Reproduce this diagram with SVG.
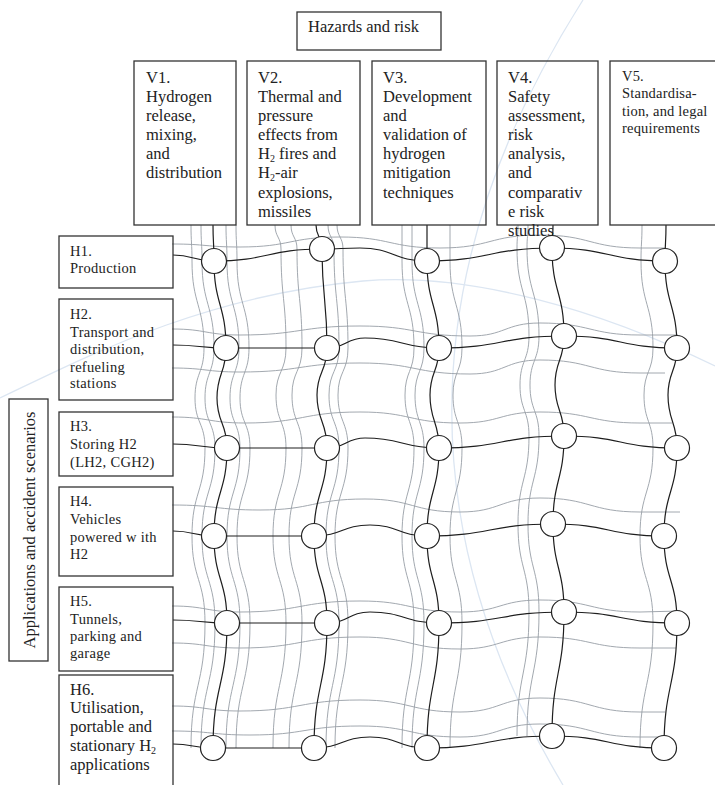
<svg xmlns="http://www.w3.org/2000/svg" xmlns:xlink="http://www.w3.org/1999/xlink" width="715" height="785" viewBox="0 0 715 785">
<style>
.box{fill:none;stroke:#333;stroke-width:1.3}
.t{font-family:"Liberation Serif","Times New Roman",serif;fill:#222}
.v{font-size:16.5px}
.h{font-size:14.5px;letter-spacing:0.3px}
.s{font-size:14.5px;letter-spacing:0.2px}
.blk{fill:none;stroke:#1e1e1e;stroke-width:1.2}
.gry{fill:none;stroke:#979ea6;stroke-width:0.9}
.arc{fill:none;stroke:#dce6f2;stroke-width:1.3}
.jn{fill:#fff;stroke:#222;stroke-width:1.2}
</style>
<defs>
<path id="c1" d="M213,225 C213,243 214,243 214,261 C214,304.5 226,304.5 226,348 C226,373 217,373 217,398 C217,423 227,423 227,448 C227,492 214,492 214,536 C214,579.5 227,579.5 227,623 C227,685.5 213,685.5 213,748"/>
<path id="c2" d="M316,225 C316,237 322,237 322,249 C322,298.5 327,298.5 327,348 C327,371.5 317,371.5 317,395 C317,421.5 327,421.5 327,448 C327,492 314,492 314,536 C314,579.5 327,579.5 327,623 C327,685.5 314,685.5 314,748"/>
<path id="c3" d="M427,225 L427,261 C427,304.5 439,304.5 439,348 C439,371.5 430,371.5 430,395 C430,421.5 439,421.5 439,448 C439,492 427,492 427,536 C427,579.5 439,579.5 439,623 C439,685.5 427,685.5 427,748"/>
<path id="c4" d="M553,225 C553,236.5 552,236.5 552,248 C552,292 564,292 564,336 C564,360.5 555,360.5 555,385 C555,410.5 564,410.5 564,436 C564,480 553,480 553,524 C553,568 564,568 564,612 C564,674 552,674 552,736"/>
<path id="c5" d="M666,225 C666,243 665,243 665,261 C665,304.5 677,304.5 677,348 C677,371.5 668,371.5 668,395 C668,421.5 677,421.5 677,448 C677,492 664,492 664,536 C664,579.5 677,579.5 677,623 C677,685.5 664,685.5 664,748"/>
</defs>
<rect width="715" height="785" fill="#fff"/>
<g id="background-arcs">
<path class="arc" d="M0,398 C80,360 200,296 363,281 C470,272 600,310 715,366"/>
<path class="arc" d="M583,0 Q331,397 563,785"/>
</g>
<g id="connectors">
<g class="gry">
<use xlink:href="#c1" x="-22"/><use xlink:href="#c1" x="-12"/><use xlink:href="#c1" x="13"/><use xlink:href="#c1" x="23"/>
<use xlink:href="#c2" x="-41"/><use xlink:href="#c2" x="-25"/><use xlink:href="#c2" x="12"/><use xlink:href="#c2" x="21"/>
<use xlink:href="#c3" x="-25"/><use xlink:href="#c3" x="-15"/><use xlink:href="#c3" x="23"/>
<use xlink:href="#c4" x="-35"/><use xlink:href="#c4" x="-25"/>
<use xlink:href="#c5" x="-24"/>
<path d="M172,244 C206,244 206,247 240,247 C290,247 290,237 340,237 C390,237 390,248 440,248 C490,248 490,235 540,235 C590,235 590,248 640,248 L665,248"/>
<path d="M172,329 C206,329 206,335 240,335 C300,335 300,326 360,326 C415,326 415,336 470,336 C505,336 505,323 540,323 C590,323 590,335 640,335 L678,335"/>
<path d="M172,368 C206,368 206,372 240,372 C300,372 300,363 360,363 C415,363 415,374 470,374 C505,374 505,360 540,360 C590,360 590,373 640,373 L665,373"/>
<path d="M172,417 C208.5,417 208.5,423 245,423 C302.5,423 302.5,412 360,412 C410,412 410,423 460,423 C500,423 500,412 540,412 C590,412 590,423 640,423 L672,423"/>
<path d="M172,505 C216,505 216,510 260,510 C312.5,510 312.5,499 365,499 C412.5,499 412.5,512 460,512 C500,512 500,498 540,498 C590,498 590,512 640,512 L680,512"/>
<path d="M172,606 C206,606 206,612 240,612 C300,612 300,601 360,601 C410,601 410,612 460,612 C500,612 500,600 540,600 C590,600 590,612 640,612 L680,611"/>
<path d="M172,643 C206,643 206,648 240,648 C300,648 300,637 360,637 C410,637 410,649 460,649 C500,649 500,637 540,637 C590,637 590,648 640,648 L676,648"/>
<path d="M172,706 C206,706 206,711 240,711 C300,711 300,700 360,700 C410,700 410,712 460,712 C500,712 500,698 540,698 C590,698 590,712 640,712 L665,712"/>
<path d="M172,731 C211,731 211,735 250,735 C305,735 305,726 360,726 C410,726 410,737 460,737 C500,737 500,724 540,724 C590,724 590,737 640,737 L662,737"/>
</g>
<g class="blk">
<use xlink:href="#c1"/><use xlink:href="#c2"/><use xlink:href="#c3"/><use xlink:href="#c4"/><use xlink:href="#c5"/>
<path d="M173,255 C193.5,255 193.5,261 214,261 C268,261 268,249 322,249 C341,249 341,248 360,248 C393.5,248 393.5,261 427,261 C489.5,261 489.5,248 552,248 C608.5,248 608.5,261 665,261"/>
<path d="M173,345 C199.5,345 199.5,348 226,348 C276.5,348 276.5,348 327,348 C346,348 346,338 365,338 C402,338 402,348 439,348 C501.5,348 501.5,336 564,336 C620.5,336 620.5,348 677,348"/>
<path d="M173,444 C200,444 200,448 227,448 C277,448 277,448 327,448 C346,448 346,438 365,438 C402,438 402,448 439,448 C501.5,448 501.5,436 564,436 C620.5,436 620.5,448 677,448"/>
<path d="M173,531 C193.5,531 193.5,536 214,536 C264,536 264,536 314,536 C342,536 342,525 370,525 C398.5,525 398.5,536 427,536 C490,536 490,524 553,524 C608.5,524 608.5,536 664,536"/>
<path d="M173,620 C200,620 200,623 227,623 C277,623 277,623 327,623 C348.5,623 348.5,612 370,612 C404.5,612 404.5,623 439,623 C501.5,623 501.5,612 564,612 C620.5,612 620.5,623 677,623"/>
<path d="M173,744 C193,744 193,748 213,748 C263.5,748 263.5,748 314,748 C342,748 342,737 370,737 C398.5,737 398.5,748 427,748 C489.5,748 489.5,736 552,736 C608,736 608,748 664,748"/>
</g>
</g>
<g id="junctions" class="jn">
<circle cx="214" cy="261" r="12.5"/><circle cx="322" cy="249" r="12.5"/><circle cx="427" cy="261" r="12.5"/><circle cx="552" cy="248" r="12.5"/><circle cx="665" cy="261" r="12.5"/>
<circle cx="226" cy="348" r="12.5"/><circle cx="327" cy="348" r="12.5"/><circle cx="439" cy="348" r="12.5"/><circle cx="564" cy="336" r="12.5"/><circle cx="677" cy="348" r="12.5"/>
<circle cx="227" cy="448" r="12.5"/><circle cx="327" cy="448" r="12.5"/><circle cx="439" cy="448" r="12.5"/><circle cx="564" cy="436" r="12.5"/><circle cx="677" cy="448" r="12.5"/>
<circle cx="214" cy="536" r="12.5"/><circle cx="314" cy="536" r="12.5"/><circle cx="427" cy="536" r="12.5"/><circle cx="553" cy="524" r="12.5"/><circle cx="664" cy="536" r="12.5"/>
<circle cx="227" cy="623" r="12.5"/><circle cx="327" cy="623" r="12.5"/><circle cx="439" cy="623" r="12.5"/><circle cx="564" cy="612" r="12.5"/><circle cx="677" cy="623" r="12.5"/>
<circle cx="213" cy="748" r="12.5"/><circle cx="314" cy="748" r="12.5"/><circle cx="427" cy="748" r="12.5"/><circle cx="552" cy="736" r="12.5"/><circle cx="664" cy="748" r="12.5"/>
</g>
<g id="hazards">
<rect class="box" x="297" y="12" width="144" height="38"/>
<text class="t v" x="308" y="32">Hazards and risk</text>
</g>
<g id="V1">
<rect class="box" x="134" y="61" width="102" height="164"/>
<text class="t v"><tspan x="146" y="83">V1.</tspan><tspan x="146" y="102">Hydrogen</tspan><tspan x="146" y="121">release,</tspan><tspan x="146" y="140">mixing,</tspan><tspan x="146" y="159">and</tspan><tspan x="146" y="178">distribution</tspan></text>
</g>
<g id="V2">
<rect class="box" x="247" y="61" width="113" height="164"/>
<text class="t v"><tspan x="258" y="83">V2.</tspan><tspan x="258" y="102">Thermal and</tspan><tspan x="258" y="121">pressure</tspan><tspan x="258" y="140">effects from</tspan></text>
<text class="t v" x="258" y="159">H<tspan font-size="10" dy="3">2</tspan><tspan dy="-3"> fires and</tspan></text>
<text class="t v" x="258" y="178">H<tspan font-size="10" dy="3">2</tspan><tspan dy="-3">-air</tspan></text>
<text class="t v"><tspan x="258" y="198">explosions,</tspan><tspan x="258" y="217">missiles</tspan></text>
</g>
<g id="V3">
<rect class="box" x="372" y="61" width="114" height="164"/>
<text class="t v"><tspan x="383" y="83">V3.</tspan><tspan x="383" y="102">Development</tspan><tspan x="383" y="121">and</tspan><tspan x="383" y="140">validation of</tspan><tspan x="383" y="159">hydrogen</tspan><tspan x="383" y="178">mitigation</tspan><tspan x="383" y="198">techniques</tspan></text>
</g>
<g id="V4">
<rect class="box" x="497" y="61" width="101" height="164"/>
<text class="t v"><tspan x="508" y="83">V4.</tspan><tspan x="508" y="102">Safety</tspan><tspan x="508" y="121">assessment,</tspan><tspan x="508" y="140">risk</tspan><tspan x="508" y="159">analysis,</tspan><tspan x="508" y="178">and</tspan><tspan x="508" y="198">comparativ</tspan><tspan x="508" y="217">e risk</tspan><tspan x="508" y="236">studies</tspan></text>
</g>
<g id="V5">
<rect class="box" x="610" y="61" width="107" height="164"/>
<text class="t s"><tspan x="622" y="81">V5.</tspan><tspan x="622" y="98">Standardisa-</tspan><tspan x="622" y="116">tion, and legal</tspan><tspan x="622" y="133">requirements</tspan></text>
</g>
<g id="H1">
<rect class="box" x="59" y="236" width="114" height="52"/>
<text class="t h"><tspan x="70" y="256">H1.</tspan><tspan x="70" y="273">Production</tspan></text>
</g>
<g id="H2">
<rect class="box" x="59" y="299" width="114" height="101"/>
<text class="t h"><tspan x="70" y="319">H2.</tspan><tspan x="70" y="337">Transport and</tspan><tspan x="70" y="354">distribution,</tspan><tspan x="70" y="372">refueling</tspan><tspan x="70" y="388">stations</tspan></text>
</g>
<g id="H3">
<rect class="box" x="59" y="412" width="114" height="64"/>
<text class="t h"><tspan x="70" y="431">H3.</tspan><tspan x="70" y="449">Storing H2</tspan><tspan x="70" y="467">(LH2, CGH2)</tspan></text>
</g>
<g id="H4">
<rect class="box" x="59" y="487" width="114" height="89"/>
<text class="t h"><tspan x="70" y="506">H4.</tspan><tspan x="70" y="524">Vehicles</tspan><tspan x="70" y="542">powered w ith</tspan><tspan x="70" y="559">H2</tspan></text>
</g>
<g id="H5">
<rect class="box" x="59" y="587" width="114" height="84"/>
<text class="t h"><tspan x="70" y="606">H5.</tspan><tspan x="70" y="624">Tunnels,</tspan><tspan x="70" y="641">parking and</tspan><tspan x="70" y="658">garage</tspan></text>
</g>
<g id="H6">
<rect class="box" x="59" y="675" width="114" height="120"/>
<text class="t v"><tspan x="70" y="695">H6.</tspan><tspan x="70" y="713">Utilisation,</tspan><tspan x="70" y="732">portable and</tspan></text>
<text class="t v" x="70" y="751">stationary H<tspan font-size="10" dy="3">2</tspan></text>
<text class="t v" x="70" y="770">applications</text>
</g>
<g id="applications-label">
<rect class="box" x="9" y="399" width="39" height="262"/>
<text class="t v" transform="translate(35,530) rotate(-90)" text-anchor="middle">Applications and accident scenarios</text>
</g>
</svg>
